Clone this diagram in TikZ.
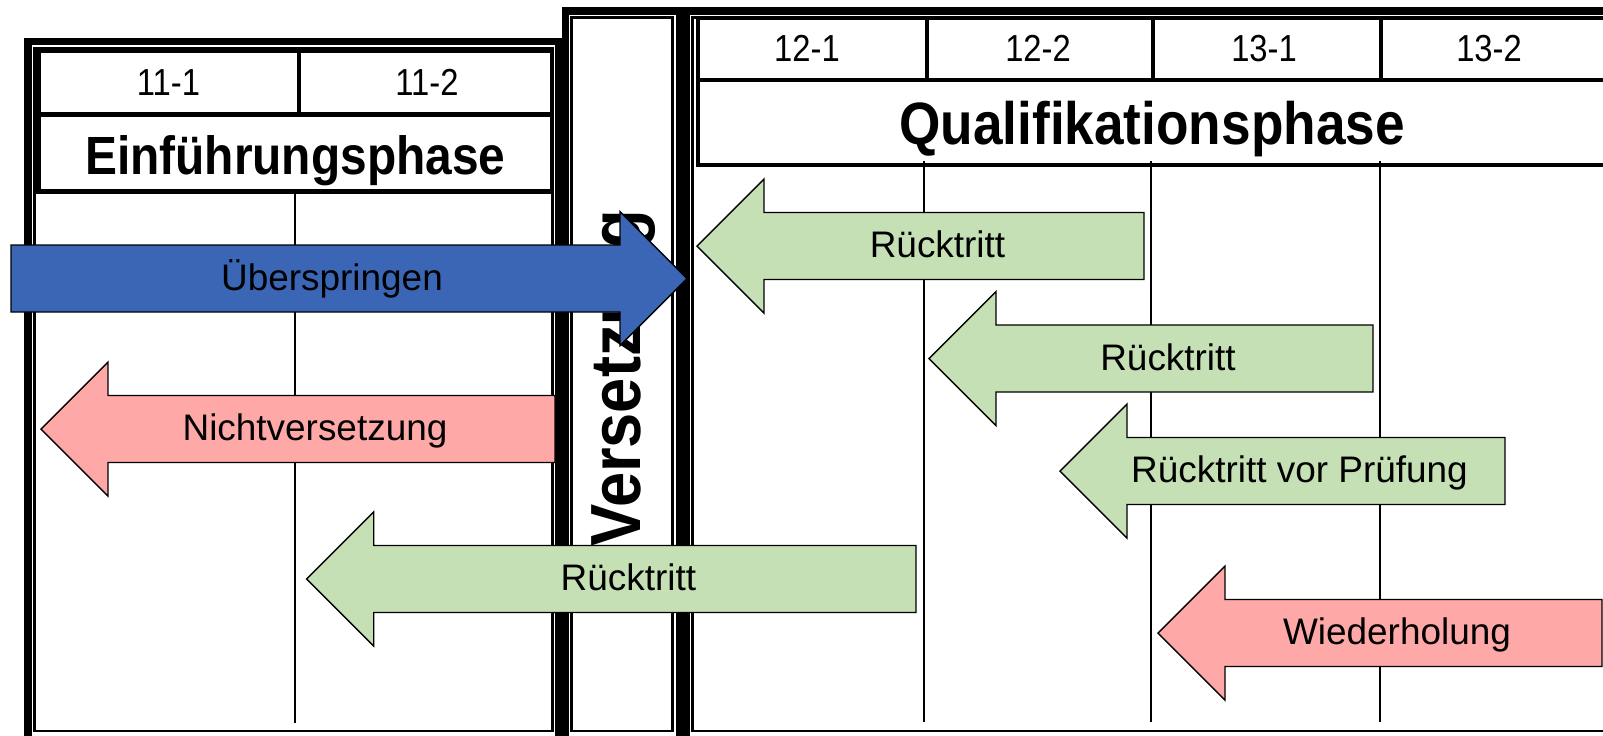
\documentclass[tikz,border=0pt]{standalone}
\usepackage{fontspec}
\setmainfont{Liberation Sans}
\newfontfamily\schmalfont[FakeStretch=0.89]{Liberation Sans}
\newfontfamily\zahlfont[FakeStretch=0.87]{Liberation Sans}

\definecolor{pfeilgruen}{HTML}{C5E0B4}
\definecolor{pfeilrosa}{HTML}{FFA8A8}
\definecolor{pfeilblau}{HTML}{3A66B5}

\tikzset{%
  % Rahmen und Raster
         rahmen/.style = {line width=2pt},
          innen/.style = {line width=0.6pt},
      kopflinie/.style = {line width=1.2pt},
        teilung/.style = {line width=0.6pt},
  % Pfeile
          pfeil/.style = {draw=black, line width=0.4pt, line join=miter},
     ruecktritt/.style = {pfeil, fill=pfeilgruen},
   wiederholung/.style = {pfeil, fill=pfeilrosa},
  ueberspringen/.style = {pfeil, fill=pfeilblau},
  % Texte
          marke/.style = {font=\fontsize{10.5}{12}\selectfont, text height=8.9pt, text depth=2.2pt},
           zahl/.style = {font=\zahlfont\fontsize{10.7}{12}\selectfont, text height=8.9pt, text depth=2.2pt},
          phase/.style = {font=\schmalfont\bfseries\fontsize{15.3}{18}\selectfont, text height=16pt, text depth=3.6pt},
}

% Blockpfeil: Stil, Spitze x, Spitze y, Ende x, Name, Text
\newcommand{\blockpfeil}[6]{%
  \pgfmathsetmacro{\richtung}{sign(#4-#2)}%
  \draw[#1] (#2,#3) -- ++({67*\richtung},-67) -- ++(0,33.5) -- ({#4},{#3-33.5})
        -- ({#4},{#3+33.5}) -- ({#2+67*\richtung},{#3+33.5}) -- ++(0,33.5) -- cycle;
  \node (#5) [marke] at ({(#2+#4)/2+17*\richtung},#3) {#6};
}

\begin{document}
\begin{tikzpicture}[x=0.01cm, y=-0.01cm, every node/.style={inner sep=0pt}]
    \useasboundingbox (0,0) rectangle (1603,735);

    % Rahmen
    \draw[rahmen] (28,41.5) rectangle (558.5,742);
    \draw[rahmen] (565.2,11) rectangle (679.5,742);
    \draw[rahmen] (686.5,11) rectangle (1625,742);
    \draw[innen]  (34.5,48.5) rectangle (552.5,731);
    \draw[innen]  (571.5,17.5) rectangle (672.5,731);
    \draw[innen]  (692.5,17.5) rectangle (1618,731);

    % Einfuehrungsphase
    \draw[kopflinie] (38.5,50.5) rectangle (552,191.5);
    \draw[kopflinie] (38.5,114.5) -- (552,114.5) (299,50.5) -- (299,114.5);
    \draw[teilung]   (294.6,191.5) -- (294.6,723);

    \node (k111) [zahl]  at (168.5,83.5) {11-1};
    \node (k112) [zahl]  at (427,83.5)   {11-2};
    \node (einf) [phase] at (295.3,153)  {Einführungsphase};

    % Qualifikationsphase
    \draw[kopflinie] (698.3,18) rectangle (1618,164.7);
    \draw[kopflinie] (698.3,79.7) -- (1618,79.7);
    \draw[kopflinie] (927,18) -- (927,79.7) (1153,18) -- (1153,79.7) (1381,18) -- (1381,79.7);
    \draw[teilung]   (924,161) -- (924,722) (1151,161) -- (1151,722) (1380,161) -- (1380,722);

    \node (k121) [zahl]  at (807,49.5)  {12-1};
    \node (k122) [zahl]  at (1038,49.5) {12-2};
    \node (k131) [zahl]  at (1264,49.5) {13-1};
    \node (k132) [zahl]  at (1489,49.5) {13-2};
    \node (qual) [phase, font=\schmalfont\bfseries\fontsize{17}{20}\selectfont] at (1152,122.5) {Qualifikationsphase};

    % Versetzung
    \node (vers) [rotate=90, anchor=base, font=\schmalfont\bfseries\fontsize{20.2}{23}\selectfont] at (640,378) {Versetzung};

    % Pfeile
    \blockpfeil{ueberspringen}{687}{278.5}{11}{ueber}{Überspringen}
    \blockpfeil{wiederholung}{41}{429}{555}{nicht}{Nichtversetzung}
    \blockpfeil{ruecktritt}{306.7}{579}{916}{rueckA}{Rücktritt}
    \blockpfeil{ruecktritt}{697}{246}{1144}{rueckB}{Rücktritt}
    \blockpfeil{ruecktritt}{929}{358.5}{1373}{rueckC}{Rücktritt}
    \blockpfeil{ruecktritt}{1060}{471}{1505}{rueckD}{Rücktritt vor Prüfung}
    \blockpfeil{wiederholung}{1158}{633}{1602}{wieder}{Wiederholung}
\end{tikzpicture}
\end{document}
